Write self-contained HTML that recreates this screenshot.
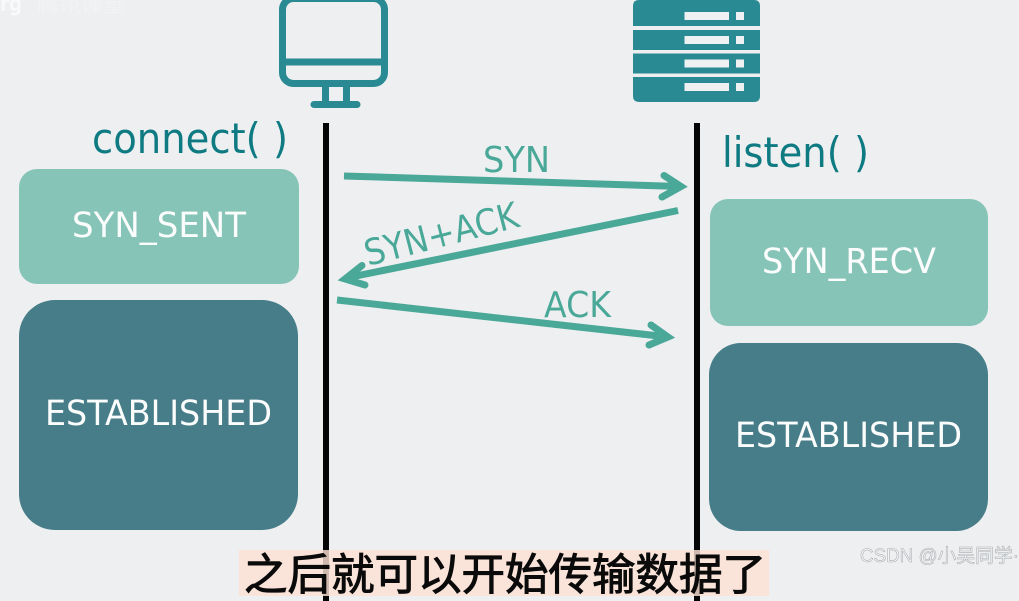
<!DOCTYPE html>
<html lang="zh">
<head>
<meta charset="utf-8">
<title>TCP handshake</title>
<style>
html,body{margin:0;padding:0;background:#edeff1;}
body{width:1019px;height:601px;overflow:hidden;position:relative;}
svg{display:block;position:absolute;left:0;top:0;}
text{font-family:"DejaVu Sans","Liberation Sans",sans-serif;}
.cjk{font-family:"Liberation Sans","Noto Sans CJK SC",sans-serif;}
</style>
</head>
<body>
<svg width="1019" height="601" viewBox="0 0 1019 601" xmlns="http://www.w3.org/2000/svg">
  <rect width="1019" height="601" fill="#edeff1"/>

  <!-- faint top-left watermark -->
  <text x="0" y="11" font-size="22" font-weight="700" fill="#f8f9f9" textLength="22" lengthAdjust="spacingAndGlyphs">rg</text>
  <text class="cjk" x="37" y="12" font-size="15" fill="#f2f3f2" textLength="88" lengthAdjust="spacingAndGlyphs">腾讯课堂</text>

  <!-- monitor -->
  <g fill="none" stroke="#2a8a94" stroke-width="7">
    <rect x="282.500" y="-1.500" width="102" height="85" rx="11"/>
    <line x1="282" y1="62" x2="385" y2="62"/>
    <line x1="325.500" y1="86" x2="325.500" y2="103"/>
    <line x1="346.500" y1="86" x2="346.500" y2="103"/>
    <line x1="314" y1="104.500" x2="357" y2="104.500" stroke-linecap="round"/>
  </g>

  <!-- server -->
  <g fill="#2a8a94">
    <path d="M633 26V6q0-6 6-6h115q6 0 6 6V26z"/>
    <rect x="633" y="30" width="127" height="20"/>
    <rect x="633" y="53.500" width="127" height="20"/>
    <path d="M633 77h127V96q0 6-6 6H639q-6 0-6-6z"/>
  </g>
  <g fill="#eef0f2">
    <rect x="684.500" y="12" width="44.500" height="8"/><rect x="736" y="12" width="8" height="8"/>
    <rect x="684.500" y="36" width="44.500" height="8"/><rect x="736" y="36" width="8" height="8"/>
    <rect x="684.500" y="59.500" width="44.500" height="8"/><rect x="736" y="59.500" width="8" height="8"/>
    <rect x="684.500" y="83" width="44.500" height="8"/><rect x="736" y="83" width="8" height="8"/>
  </g>

  <!-- lifelines -->
  <rect x="323" y="123" width="6" height="478" fill="#050505"/>
  <rect x="694" y="123" width="6" height="478" fill="#050505"/>

  <!-- function labels -->
  <text x="92" y="153" font-size="42" fill="#0e7a82" textLength="196" lengthAdjust="spacingAndGlyphs">connect( )</text>
  <text x="722" y="167" font-size="42" fill="#0e7a82" textLength="147" lengthAdjust="spacingAndGlyphs">listen( )</text>

  <!-- state boxes -->
  <rect x="19" y="169" width="280" height="115" rx="18" fill="#86c4b7"/>
  <rect x="19" y="300" width="279" height="230" rx="36" fill="#467d89"/>
  <rect x="710" y="199" width="278" height="127" rx="18" fill="#86c4b7"/>
  <rect x="709" y="343" width="279" height="188" rx="32" fill="#467d89"/>

  <g fill="#fbfcfc" font-size="35">
    <text x="72" y="237" textLength="174" lengthAdjust="spacingAndGlyphs">SYN_SENT</text>
    <text x="45" y="425" textLength="227" lengthAdjust="spacingAndGlyphs">ESTABLISHED</text>
    <text x="762" y="273" textLength="174" lengthAdjust="spacingAndGlyphs">SYN_RECV</text>
    <text x="735" y="447" textLength="227" lengthAdjust="spacingAndGlyphs">ESTABLISHED</text>
  </g>

  <!-- arrows -->
  <g fill="none" stroke="#4aa898" stroke-width="7">
    <line x1="344" y1="176" x2="681" y2="186.500"/>
    <path d="M664 175.500L681 186.500L662 197" stroke-linecap="round" stroke-linejoin="miter"/>
    <line x1="678" y1="210.500" x2="346" y2="278"/>
    <path d="M362 265.500L345 279L365 285" stroke-linecap="round" stroke-linejoin="miter"/>
    <line x1="337" y1="300" x2="668" y2="337"/>
    <path d="M651 325L668 337L649 345" stroke-linecap="round" stroke-linejoin="miter"/>
  </g>

  <!-- arrow labels -->
  <g fill="#4aa898" font-size="36">
    <text x="483" y="172" textLength="67" lengthAdjust="spacingAndGlyphs">SYN</text>
    <text transform="translate(368 266) rotate(-14.500)" textLength="158" lengthAdjust="spacingAndGlyphs">SYN+ACK</text>
    <text x="544" y="317" textLength="67" lengthAdjust="spacingAndGlyphs">ACK</text>
  </g>

  <!-- subtitle -->
  <rect x="239" y="550" width="530" height="46" fill="#fde0d3" fill-opacity=".82"/>
  <text class="cjk" x="244" y="590" font-size="43.500" fill="#0a0a0a" stroke="#0a0a0a" stroke-width="1" textLength="522">之后就可以开始传输数据了</text>

  <!-- watermark -->
  <text class="cjk" x="860" y="562" font-size="19" fill="#f4f5f6" stroke="#a9acaf" stroke-width=".55" textLength="159" lengthAdjust="spacingAndGlyphs">CSDN @小吴同学·</text>
</svg>
</body>
</html>
